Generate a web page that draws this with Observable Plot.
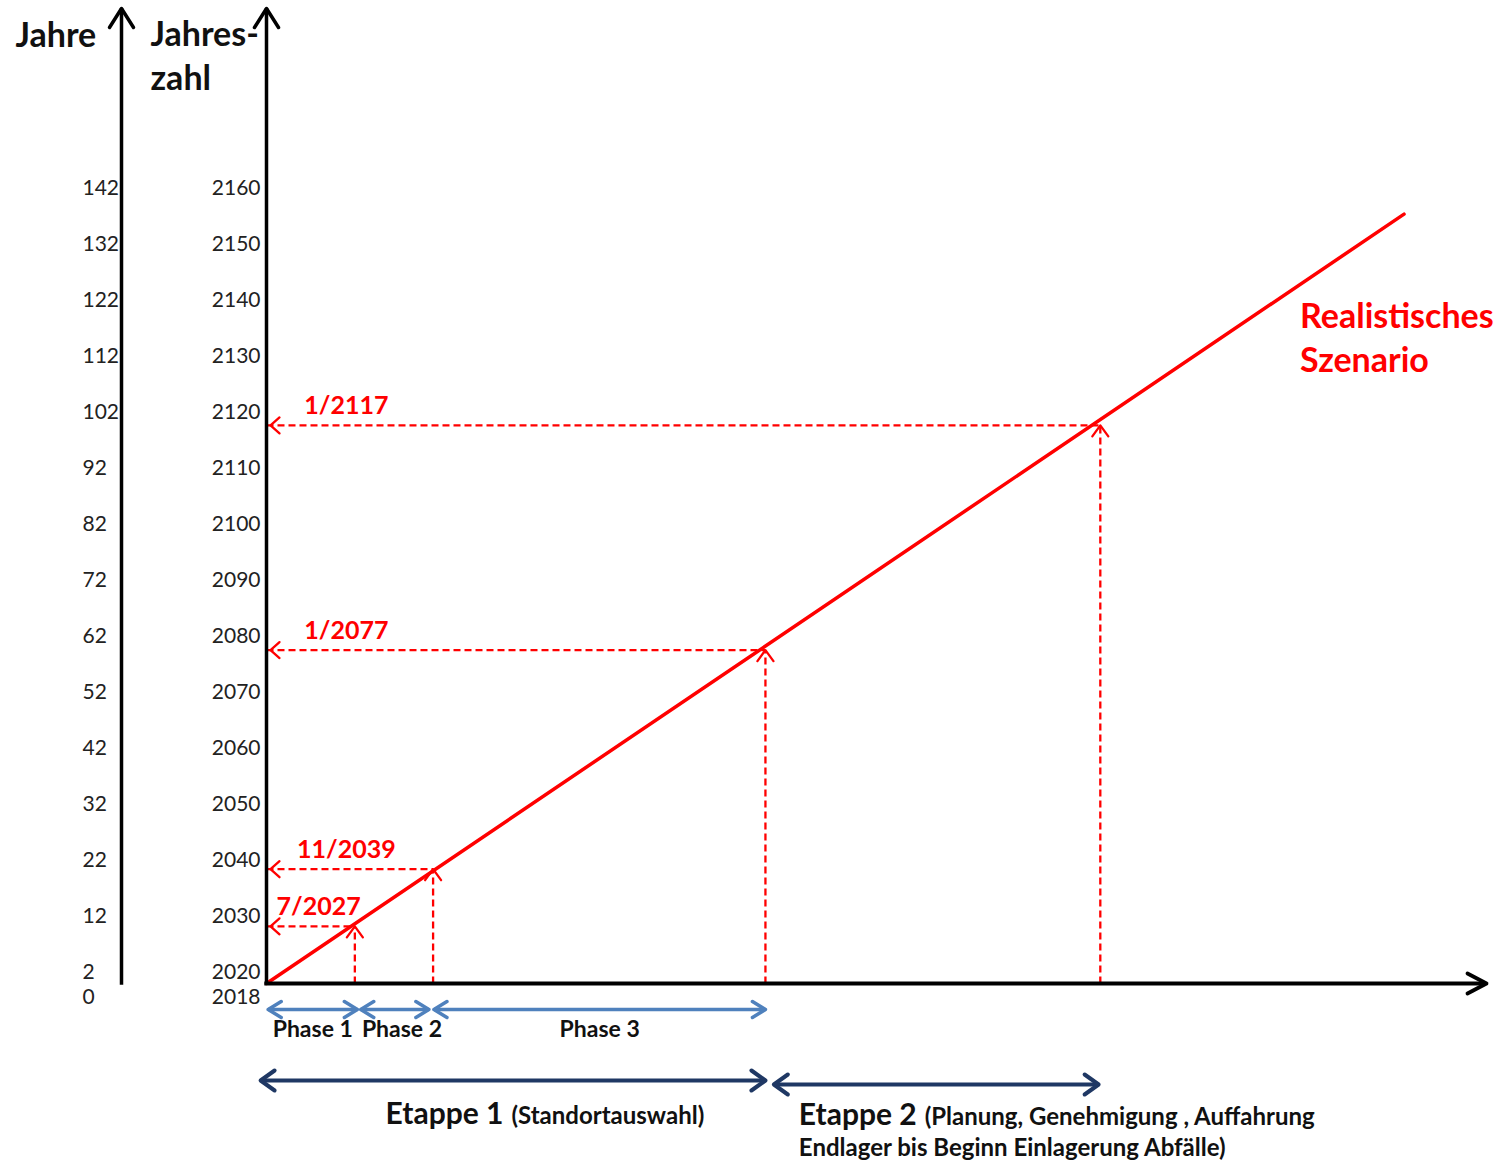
<!DOCTYPE html>
<html><head><meta charset="utf-8">
<script src="https://cdn.jsdelivr.net/npm/d3@7"></script>
<script src="https://cdn.jsdelivr.net/npm/@observablehq/plot@0.6"></script>
<style>
html,body{margin:0;padding:0;background:#fff;overflow:hidden;}
#chart svg{display:block;}
</style></head><body><div id="chart"></div>
<script>
// ---- data ----
const startYear = 2018;
const endYear = 2163;      // end of x axis
const topYear = 2192;      // top of y axes
const yearTicks = [2020, 2030, 2040, 2050, 2060, 2070, 2080, 2090, 2100, 2110, 2120, 2130, 2140, 2150, 2160];
const jahreTicks = [2, 12, 22, 32, 42, 52, 62, 72, 82, 92, 102, 112, 122, 132, 142];
const scenarioLine = [{x: 2018, y: 2018}, {x: 2153.2, y: 2155.3}];
const milestones = [
  {label: "7/2027", x: 2028.5, y: 2028.2},
  {label: "11/2039", x: 2037.8, y: 2038.4},
  {label: "1/2077", x: 2077.3, y: 2077.5},
  {label: "1/2117", x: 2117.1, y: 2117.6}
];
const phases = [
  {name: "Phase 1", start: 2018.2, end: 2028.8},
  {name: "Phase 2", start: 2029.2, end: 2037.3},
  {name: "Phase 3", start: 2037.9, end: 2077.3}
];
const etappen = [
  {name: "Etappe 1", note: "(Standortauswahl)", start: 2017.3, end: 2077.3},
  {name: "Etappe 2", note: "(Planung, Genehmigung , Auffahrung", start: 2078.3, end: 2116.9}
];
const etappe2Line2 = "Endlager bis Beginn Einlagerung Abfälle)";
const scenarioLabel = ["Realistisches", "Szenario"];

// ---- styles ----
const RED = "#ff0000", BLUE = "#4f81bd", NAVY = "#1f3864", INK = "#222";
const FONT = "Lato, 'Open Sans', sans-serif";
const chevron = (half) => ({draw(ctx, l) { ctx.moveTo(-half, l); ctx.lineTo(0, 0); ctx.lineTo(half, l); }});

const head = (data, o) => Plot.vector(data, {anchor: "start", strokeLinecap: "round", strokeLinejoin: "round", ...o});

const marks = [
  // dashed guides
  Plot.link(milestones, {x1: startYear, x2: "x", y1: "y", y2: "y", stroke: RED, strokeWidth: 2.3, strokeDasharray: "7,4"}),
  Plot.link(milestones, {x1: "x", x2: "x", y1: startYear, y2: "y", stroke: RED, strokeWidth: 2.3, strokeDasharray: "7,4"}),
  // scenario line
  Plot.line(scenarioLine, {x: "x", y: "y", stroke: RED, strokeWidth: 3.5}),
  head(milestones, {x: startYear, y: "y", dx: 4, rotate: -90, length: 9, shape: chevron(8), stroke: RED, strokeWidth: 2.3}),
  head(milestones, {x: "x", y: "y", rotate: 0, length: 11, shape: chevron(8), stroke: RED, strokeWidth: 2.3}),
  Plot.text(milestones, {x: d => Math.min(2027.5, d.x - 4.3), y: "y", dy: -19, text: "label", fill: RED, fontWeight: "bold", fontSize: 25, fontFamily: FONT}),
  // axes lines
  Plot.ruleX([startYear], {y1: startYear - 0.3, y2: topYear, stroke: "#000", strokeWidth: 3.5}),
  Plot.ruleX([startYear], {dx: -145, y1: startYear - 0.3, y2: topYear, stroke: "#000", strokeWidth: 3.5}),
  Plot.ruleY([startYear], {x1: startYear - 0.2, x2: endYear, stroke: "#000", strokeWidth: 3.8}),
  head([0], {x: startYear, y: topYear, rotate: 0, length: 19, shape: chevron(12), stroke: "#000", strokeWidth: 3.5}),
  head([0], {x: startYear, y: topYear, dx: -145, rotate: 0, length: 19, shape: chevron(12), stroke: "#000", strokeWidth: 3.5}),
  head([0], {x: endYear, y: startYear, rotate: 90, length: 19, shape: chevron(10), stroke: "#000", strokeWidth: 3.8}),
  // tick labels
  Plot.text(yearTicks, {x: startYear, y: d => d, dx: -6, textAnchor: "end", text: d => String(d), fill: INK, fontSize: 21, fontFamily: FONT}),
  Plot.text([startYear], {x: startYear, y: d => d, dx: -6, dy: 14, textAnchor: "end", text: d => String(d), fill: INK, fontSize: 21, fontFamily: FONT}),
  Plot.text(jahreTicks, {x: startYear, y: d => startYear + d, dx: -184, textAnchor: "start", text: d => String(d), fill: INK, fontSize: 21, fontFamily: FONT}),
  Plot.text([0], {x: startYear, y: startYear, dx: -184, dy: 14, textAnchor: "start", text: d => String(d), fill: INK, fontSize: 21, fontFamily: FONT}),
  // axis titles
  Plot.text(["Jahre"], {frameAnchor: "top-left", lineAnchor: "top", dx: -251, dy: 14, textAnchor: "start", text: d => d, fontWeight: "bold", fontSize: 34, fontFamily: FONT, fill: "#111"}),
  Plot.text(["Jahres-"], {frameAnchor: "top-left", lineAnchor: "top", dx: -116, dy: 13, textAnchor: "start", text: d => d, fontWeight: "bold", fontSize: 34, fontFamily: FONT, fill: "#111"}),
  Plot.text(["zahl"], {frameAnchor: "top-left", lineAnchor: "top", dx: -116, dy: 57, textAnchor: "start", text: d => d, fontWeight: "bold", fontSize: 34, fontFamily: FONT, fill: "#111"}),
  // scenario label
  Plot.text([scenarioLabel[0]], {x: scenarioLine[1].x, y: scenarioLine[1].y, dx: -104, dy: 103, textAnchor: "start", text: d => d, fill: RED, fontWeight: "bold", fontSize: 34, fontFamily: FONT}),
  Plot.text([scenarioLabel[1]], {x: scenarioLine[1].x, y: scenarioLine[1].y, dx: -104, dy: 147, textAnchor: "start", text: d => d, fill: RED, fontWeight: "bold", fontSize: 34, fontFamily: FONT}),
  // phases
  Plot.link(phases, {x1: "start", x2: "end", y1: startYear, y2: startYear, dy: 26, stroke: BLUE, strokeWidth: 3.5}),
  head(phases, {x: "start", y: startYear, dy: 26, rotate: -90, length: 13, shape: chevron(8), stroke: BLUE, strokeWidth: 3.5}),
  head(phases, {x: "end", y: startYear, dy: 26, rotate: 90, length: 13, shape: chevron(8), stroke: BLUE, strokeWidth: 3.5}),
  Plot.text(phases, {x: d => Math.max((d.start + d.end) / 2, d.start + 4.9), y: startYear, dy: 46, text: "name", fill: "#111", fontWeight: "bold", fontSize: 23, fontFamily: FONT}),
];
// etappen
etappen.forEach((e, i) => {
  const dy = 97 + 4 * i;
  marks.push(
    Plot.link([e], {x1: "start", x2: "end", y1: startYear, y2: startYear, dy, stroke: NAVY, strokeWidth: 4}),
    head([e], {x: "start", y: startYear, dy, rotate: -90, length: 14, shape: chevron(10), stroke: NAVY, strokeWidth: 4}),
    head([e], {x: "end", y: startYear, dy, rotate: 90, length: 14, shape: chevron(10), stroke: NAVY, strokeWidth: 4}),
    Plot.text([e], {x: "start", y: startYear, dx: i === 0 ? 125 : 25, dy: 131 + i, textAnchor: "start", text: "name", fill: "#111", fontWeight: "bold", fontSize: 30, fontFamily: FONT})
  );
});
marks.push(Plot.text([etappe2Line2], {x: etappen[1].start, y: startYear, dx: 25, dy: 165, textAnchor: "start", text: d => d, fill: "#111", fontWeight: "bold", fontSize: 24, fontFamily: FONT}));

const chart = Plot.plot({
  width: 1501,
  height: 1165,
  marginLeft: 266,
  marginRight: 15,
  marginTop: 8,
  marginBottom: 182,
  x: {domain: [startYear, endYear], axis: null},
  y: {domain: [startYear, topYear], axis: null},
  style: {fontFamily: FONT, background: "#fff"},
  marks
});
document.getElementById("chart").appendChild(chart);

// etappe notes as smaller tspans
d3.select(chart).selectAll("text").each(function () {
  const e = etappen.find(d => d.name === this.textContent);
  if (e) d3.select(this).append("tspan").attr("font-size", 24).attr("dx", 8).text(e.note);
});
</script>
</body></html>
